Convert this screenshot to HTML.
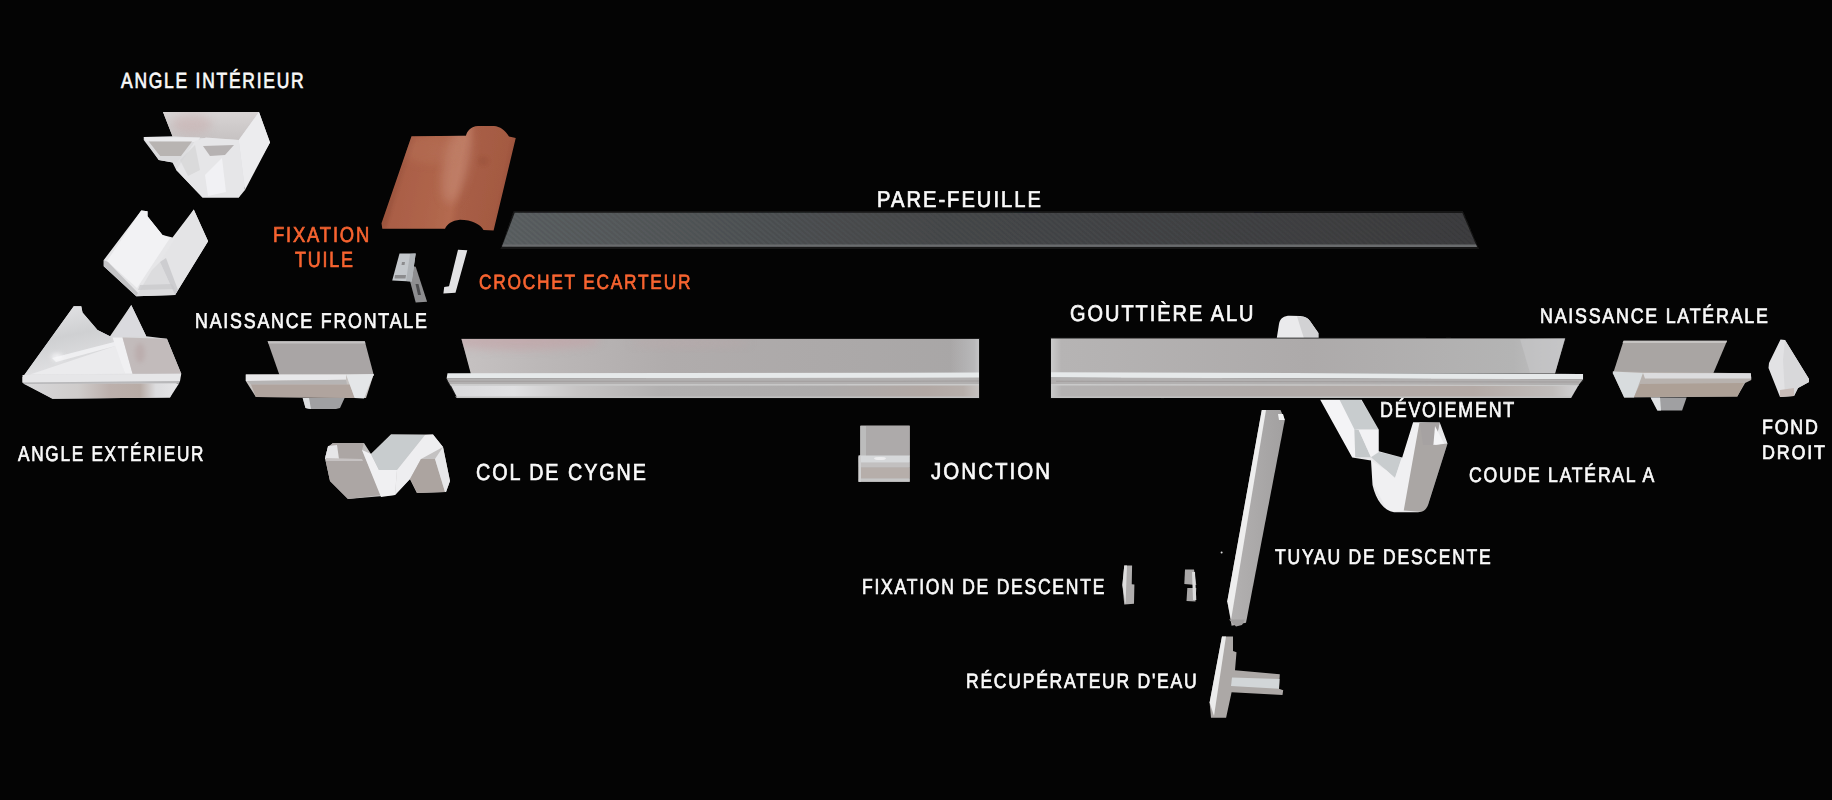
<!DOCTYPE html>
<html><head><meta charset="utf-8"><style>
html,body{margin:0;padding:0;background:#040404;width:1832px;height:800px;overflow:hidden}
svg{position:absolute;left:0;top:0}

.t{position:absolute;font-family:"Liberation Sans",sans-serif;line-height:1;letter-spacing:0.1em;-webkit-text-stroke:0.7px currentColor;white-space:nowrap;transform-origin:0 0;text-rendering:geometricPrecision}
</style></head><body>
<svg width="1832" height="800" viewBox="0 0 1832 800">
<filter id="bl" x="-5%" y="-5%" width="110%" height="110%"><feGaussianBlur stdDeviation="0.6"/></filter>
<g filter="url(#bl)">
<defs>
  <filter id="bl3" x="-50%" y="-50%" width="200%" height="200%"><feGaussianBlur stdDeviation="2"/></filter>
  <filter id="bl4" x="-50%" y="-50%" width="200%" height="200%"><feGaussianBlur stdDeviation="5"/></filter>
  <filter id="bl2" x="-50%" y="-50%" width="200%" height="200%"><feGaussianBlur stdDeviation="4"/></filter>
  <linearGradient id="pf" x1="0" x2="1" y1="0" y2="0">
    <stop offset="0" stop-color="#5c6163"/>
    <stop offset="0.45" stop-color="#47494b"/>
    <stop offset="1" stop-color="#3d3d3f"/>
  </linearGradient>
  <pattern id="hatch" width="4" height="4" patternUnits="userSpaceOnUse" patternTransform="rotate(40)">
    <rect width="4" height="2" fill="#000" opacity="0.06"/>
  </pattern>
  <linearGradient id="tile" gradientUnits="userSpaceOnUse" x1="385" y1="166" x2="515" y2="192">
    <stop offset="0" stop-color="#9a5038"/>
    <stop offset="0.12" stop-color="#aa5e46"/>
    <stop offset="0.45" stop-color="#b0664c"/>
    <stop offset="0.55" stop-color="#b46a50"/>
    <stop offset="0.62" stop-color="#a85e46"/>
    <stop offset="0.88" stop-color="#a45a42"/>
    <stop offset="1" stop-color="#8e4a36"/>
  </linearGradient>
  <linearGradient id="tileV" x1="0" x2="0" y1="0" y2="1">
    <stop offset="0" stop-color="#fff" stop-opacity="0.06"/>
    <stop offset="0.6" stop-color="#000" stop-opacity="0"/>
    <stop offset="1" stop-color="#000" stop-opacity="0.12"/>
  </linearGradient>
  <linearGradient id="g1back" x1="0" x2="1" y1="0" y2="0">
    <stop offset="0" stop-color="#c6c2c2"/>
    <stop offset="0.15" stop-color="#bcb8b8"/>
    <stop offset="0.4" stop-color="#b0acac"/>
    <stop offset="1" stop-color="#a8a6a6"/>
  </linearGradient>
  <linearGradient id="g1end" x1="0" x2="1" y1="0" y2="0">
    <stop offset="0" stop-color="#bcbcbe" stop-opacity="0"/>
    <stop offset="0.8" stop-color="#bcbcbe" stop-opacity="0.8"/>
    <stop offset="1" stop-color="#c8c8ca" stop-opacity="1"/>
  </linearGradient>
  <linearGradient id="g1pink" x1="0" x2="0" y1="0" y2="1">
    <stop offset="0" stop-color="#c4a4a6" stop-opacity="0.85"/>
    <stop offset="1" stop-color="#c4a4a6" stop-opacity="0"/>
  </linearGradient>
  <linearGradient id="g1front" x1="0" x2="1" y1="0" y2="0">
    <stop offset="0" stop-color="#dadadc"/>
    <stop offset="0.12" stop-color="#e0e0e2"/>
    <stop offset="0.24" stop-color="#c6c4c4"/>
    <stop offset="0.4" stop-color="#b2b0b0"/>
    <stop offset="0.7" stop-color="#adabab"/>
    <stop offset="0.9" stop-color="#b2a8a4"/>
    <stop offset="0.97" stop-color="#b6aeaa"/>
    <stop offset="1" stop-color="#c6c2c0"/>
  </linearGradient>
  <linearGradient id="g2back" x1="0" x2="1" y1="0" y2="0">
    <stop offset="0" stop-color="#cacaca"/>
    <stop offset="0.02" stop-color="#b6b4b4"/>
    <stop offset="0.5" stop-color="#adaaaa"/>
    <stop offset="0.9" stop-color="#b4b4b4"/>
    <stop offset="1" stop-color="#c4c4c6"/>
  </linearGradient>
  <linearGradient id="g2front" x1="0" x2="1" y1="0" y2="0">
    <stop offset="0" stop-color="#cacaca"/>
    <stop offset="0.02" stop-color="#b4b2b2"/>
    <stop offset="0.4" stop-color="#b0aaa8"/>
    <stop offset="0.8" stop-color="#b4aaa6"/>
    <stop offset="0.95" stop-color="#c0bcba"/>
    <stop offset="1" stop-color="#d2d2d4"/>
  </linearGradient>
  <linearGradient id="aeFront" x1="0" x2="1" y1="0" y2="0">
    <stop offset="0" stop-color="#d8d8da"/>
    <stop offset="0.35" stop-color="#cfcccb"/>
    <stop offset="0.55" stop-color="#bcb0ac"/>
    <stop offset="0.75" stop-color="#b8aca6"/>
    <stop offset="0.85" stop-color="#dcdcde"/>
    <stop offset="1" stop-color="#e6e6e8"/>
  </linearGradient>
  <linearGradient id="aePanel" x1="0" x2="0.3" y1="0" y2="1">
    <stop offset="0" stop-color="#e6e6e8"/>
    <stop offset="0.5" stop-color="#cfd0d2"/>
    <stop offset="1" stop-color="#e2e2e4"/>
  </linearGradient>
  <linearGradient id="aiBack" x1="0" x2="0" y1="0" y2="1">
    <stop offset="0" stop-color="#d8d4d4"/>
    <stop offset="1" stop-color="#c6c2c2"/>
  </linearGradient>
  <linearGradient id="pipe" x1="0" x2="1" y1="0" y2="0">
    <stop offset="0" stop-color="#b4b2b2"/>
    <stop offset="1" stop-color="#a2a0a0"/>
  </linearGradient>
</defs>

<!-- ANGLE INTERIEUR -->
<g>
  <polygon points="163,112 259,112 270,142.5 238.75,197.5 202.5,197.5 176.25,170 172.5,162.5 158.75,160 143.75,140 143.75,137 172.5,136.25" fill="#dedee0"/>
  <polygon points="163,112 259,112 238.75,140 172.5,136.25" fill="url(#aiBack)"/>
  <clipPath id="cai"><polygon points="163,112 259,112 238.75,140 172.5,136.25"/></clipPath>
  <g clip-path="url(#cai)"><ellipse cx="192" cy="124" rx="20" ry="10" fill="#c4a0a0" opacity="0.35" filter="url(#bl2)"/></g>
  <polygon points="259,112 270,142.5 245,190 238.75,140" fill="#ececee"/>
  <polygon points="143.75,136.9 200,137.5 197.5,142 146,141.25" fill="#eaeaec"/>
  <polygon points="148.75,141.5 192,141.5 181,156 160,156" fill="#b8b4b2"/>
  <polygon points="146,141.25 160,156 182,156 176,163 158.75,160" fill="#dadadc"/>
  <polygon points="176.25,170 195,141 206,137.5 238.75,140 245,190 238.75,197.5 202.5,197.5" fill="#e6e6e8"/>
  <polygon points="203,146 234,145 225,155 210,156" fill="#b6b2b2"/>
  <polygon points="205,175 222,158 226,192 208,196" fill="#f4f4f6" opacity="0.8"/>
  <polygon points="180,160 195,145 200,170 188,176" fill="#d4d4d6" opacity="0.7"/>
</g>

<!-- ANGLE 2 -->
<g>
  <polygon points="141.25,210.6 147.5,211.25 147.5,216.25 162.5,235 172.5,237.5 193.75,209.4 208.1,241.25 175,295 136.25,296.25 103.75,266.25 103.75,260" fill="#e6e6e8"/>
  <polygon points="141.25,210.6 147.5,211.25 147.5,216.25 162.5,235 170,238 137,288 107,261" fill="#f2f2f4"/>
  <polygon points="193.75,209.4 208.1,241.25 175,295 160,262" fill="#e4e4e6"/>
  <polygon points="160,262 175,295 136.25,296.25 152,270" fill="#dcdcde"/>
  <polygon points="103.75,260 108,262 138,293 136.25,296.25 103.75,266.25" fill="#c4c4c6"/>
  <polygon points="160,262 166,258 178,290 175,295" fill="#cdcdd0"/>
  <polygon points="140,285 172,284 175,289 138,290" fill="#c8c8ca" opacity="0.7"/>
</g>

<!-- ANGLE EXTERIEUR -->
<g>
  <polygon points="73.75,306.25 81.25,306.25 82.5,312.5 97.5,330 110,336.25 131.25,305 146.25,336.25 166.9,338.75 181.25,373.75 170,397.5 52.5,398.75 22.5,382.5 22.5,377.5" fill="#d8d8da"/>
  <polygon points="73.75,306.25 81.25,306.25 82.5,312.5 97.5,330 110,336.25 125,373.75 22.5,377.5" fill="url(#aePanel)"/>
  <polygon points="30,374.5 118,345 125,373.75" fill="#ebebed"/>
  <polygon points="52,358 118,341 119,345 56,362" fill="#f4f4f6" opacity="0.8"/>
  <ellipse cx="57" cy="357" rx="6" ry="4" fill="#f8f8fa" opacity="0.7" filter="url(#bl3)"/>
  <polygon points="131.25,305 146.25,336.25 112.5,337.5" fill="#dadade"/>
  <polygon points="112.5,337.5 122.5,337.5 132.5,373.75 125,373.75" fill="#f0f0f2"/>
  <polygon points="122.5,337.5 166.9,338.75 181.25,373.75 132.5,373.75" fill="#c2bbbb"/>
  <ellipse cx="140" cy="353" rx="5" ry="10" fill="#a88888" opacity="0.25" filter="url(#bl3)"/>
  <polygon points="22.5,375 181.25,373.75 180,381 22.5,382.5" fill="#e6e6e8"/>
  <polygon points="22.5,382.5 180,381 179,383.5 24,384" fill="#b8b8ba"/>
  <polygon points="24,384 179,383.5 170,397.5 52.5,398.75" fill="url(#aeFront)"/>
</g>

<!-- NAISSANCE FRONTALE -->
<g>
  <polygon points="267.6,341.2 364.8,341.2 374,376 279.8,376" fill="#a9a5a5"/>
  <polygon points="267.6,341.2 364.8,341.2 365.5,343.5 268.5,343.5" fill="#c4c2c2"/>
  <polygon points="245.8,374.6 373.8,374.1 366,398 255.9,396.9 245.8,381" fill="#c6c2c0"/>
  <polygon points="245.8,374.6 346,374.6 346,379.8 245.8,381" fill="#e8e8ea"/>
  <polygon points="247,381 346,379.8 347,384.5 251,384.5" fill="#b6b4b4"/>
  <polygon points="251,384.5 350,384.5 354.7,398 255.9,396.9" fill="#b0a49e"/>
  <polygon points="346,374.6 373.8,374.1 364,398.5 354.7,398" fill="#e4e6e8"/>
  <polygon points="302.7,398 344.6,398 340,408 336,409 309,409 305.5,408" fill="#a0a0a2"/>
  <polygon points="302.7,398 309,398 311,409 305.5,408" fill="#dcdee0"/>
</g>

<!-- TILE -->
<g>
  <clipPath id="ctile"><path d="M411.5,136.2 L466,135.8 C467,131 471,126.5 478,126 L494,126 C500,126.5 505,130 509,136.5 L515.75,138 L493.6,230.5 L483.5,230 C480,224 472,220 460,219.8 C452,220.5 447,224 445,228.8 L382.3,228.8 L381.5,223.2 Z"/></clipPath>
  <path d="M411.5,136.2 L466,135.8 C467,131 471,126.5 478,126 L494,126 C500,126.5 505,130 509,136.5 L515.75,138 L493.6,230.5 L483.5,230 C480,224 472,220 460,219.8 C452,220.5 447,224 445,228.8 L382.3,228.8 L381.5,223.2 Z" fill="url(#tile)"/>
  <g clip-path="url(#ctile)">
    <ellipse cx="457" cy="162" rx="13" ry="42" transform="rotate(12 457 162)" fill="#d09a88" opacity="0.4" filter="url(#bl4)"/>
    <ellipse cx="430" cy="150" rx="30" ry="14" fill="#c08068" opacity="0.25" filter="url(#bl2)"/>
    <ellipse cx="483" cy="161" rx="5" ry="4" fill="#7a3e2c" opacity="0.18" filter="url(#bl3)"/>
    <path d="M381.5,223.2 L411.5,136.2 L414,136.2 L385,229 Z" fill="#000" opacity="0.08" filter="url(#bl3)"/>
  </g>
</g>

<!-- FIXATION TUILE hooks -->
<g>
  <polygon points="411.7,266 415.7,266.8 427.1,301.7 415.7,302.5 410,281" fill="#8e8e90"/>
  <polygon points="415.5,284 418.5,284 421,295 418,295" fill="#4e4e50"/>
  <polygon points="399.5,253.4 415.7,253.4 411.7,281.4 392.2,280.6" fill="#c4c8cc"/>
  <polygon points="395,275 406,275 405.5,278.5 394.5,278.5" fill="#8c8c8e"/>
  <polygon points="402,262 405,262 404.5,265 401.5,265" fill="#8c8c8e"/>
  <polygon points="410,254 415.7,253.4 411.7,281.4 406,281" fill="#b0b4b8"/>
  <polygon points="458,249.7 467.3,250.2 455.5,292.8 443.4,293.6 444.2,287.1 449,286.3" fill="#e2e2e4"/>
</g>

<!-- PARE-FEUILLE -->
<g>
  <polygon points="513.5,211 1463,211 1479,249 500.5,249" fill="#161616"/>
  <polygon points="514.75,212.75 1462.3,213 1477,247 502,246.5" fill="url(#pf)"/>
  <polygon points="514.75,212.75 1462.3,213 1477,247 502,246.5" fill="url(#hatch)"/>
  <polygon points="503,244.5 1476,244.5 1477,247 502,246.5" fill="#6a6c6e"/>
</g>

<!-- GUTTER 1 -->
<g>
  <polygon points="461.1,338 979.7,338 979.7,398.4 456.9,398.4 446.6,380.6 447.5,374.5 470.9,373.1" fill="#1a1a1a"/>
  <polygon points="461.5,339 979,339 979,374 470.9,374" fill="url(#g1back)"/>
  <clipPath id="cg1"><polygon points="461.5,339 979,339 979,374 470.9,374"/></clipPath>
  <g clip-path="url(#cg1)">
    <ellipse cx="520" cy="341" rx="80" ry="9" fill="#c4a0a4" opacity="0.55" filter="url(#bl2)"/>
    <ellipse cx="690" cy="343" rx="60" ry="5" fill="#c0a8aa" opacity="0.35" filter="url(#bl2)"/>
    <rect x="950" y="339" width="30" height="35" fill="url(#g1end)"/>
  </g>
  <polygon points="447.5,373.2 979,372.6 979,378 446.6,378.6" fill="#e6e9ea"/>
  <polygon points="446.6,378.2 979,377.6 979,384.5 450.3,385.3" fill="#b2b0b0"/>
  <polygon points="448,380.8 979,380.6 979,381.6 448,381.8" fill="#a29e9e"/>
  <polygon points="450.3,384.2 979,384 979,397 456.9,397" fill="url(#g1front)"/>
  <polygon points="450.3,384.2 979,384 979,385.5 450.8,385.7" fill="#cacaca"/>
  <polygon points="455,396.6 979,396.6 979,398 456.9,398" fill="#c2c2c2"/>
</g>

<!-- DEVOIEMENT top (behind gutter2) -->
<path d="M1276.7,338.5 L1279,324 C1280,318 1284,315.7 1290,315.7 L1300,316 C1305,316.5 1308,318 1310,321 L1318.4,333 L1318.4,338.5 Z" fill="#eaeaec"/>
<path d="M1297,316.2 C1305,316.5 1308,318 1310,321 L1318.4,333 L1318.4,338.5 L1304,338.5 L1300,326 Z" fill="#d2d2d4"/>

<!-- GUTTER 2 -->
<g>
  <polygon points="1050.5,337.5 1566,338 1555.5,372.5 1583.5,374.5 1583.5,381 1579,384.5 1572,397 1050.5,398.5" fill="#1a1a1a"/>
  <polygon points="1051,338.5 1565,338.5 1555,373.5 1051,373.5" fill="url(#g2back)"/>
  <polygon points="1520,339 1565,338.5 1555,373 1530,373" fill="#c6c6c8" opacity="0.6"/>
  <polygon points="1051,372.2 1583,374 1583,379.5 1051,377.8" fill="#e6e9ea"/>
  <polygon points="1051,377.5 1583,379.2 1579,384.5 1051,384.5" fill="#b2b0b0"/>
  <polygon points="1056,380.8 1579,381.6 1579,382.6 1056,381.8" fill="#a29e9e"/>
  <polygon points="1051,384 1579,384.5 1571.5,397.2 1051,397.2" fill="url(#g2front)"/>
  <polygon points="1051,384 1579,384.5 1578,386 1051,385.5" fill="#cacaca"/>
  <polygon points="1051,396.6 1572,396.6 1571,398 1051,398" fill="#c2c2c2"/>
</g>

<!-- NAISSANCE LATERALE -->
<g>
  <polygon points="1623.6,340.7 1727.1,340.7 1713,374 1612.9,374" fill="#a9a5a3"/>
  <polygon points="1623.6,340.7 1727.1,340.7 1726,343 1622.5,343" fill="#c6c4c2"/>
  <polygon points="1612.9,371.6 1750.8,373.3 1751.3,380.1 1745.1,382.9 1737.3,396.4 1624.2,397.5 1612.9,373.3" fill="#b8b2ae"/>
  <polygon points="1643,373 1750.8,373.3 1751.3,378.5 1645,378.5" fill="#dcdcde"/>
  <polygon points="1612.9,371.6 1643,373 1634,397.5 1624.2,397.5 1612.9,373.3" fill="#d8dcde"/>
  <polygon points="1640,384 1744,383 1737.3,396.4 1634,397" fill="#ada096"/>
  <polygon points="1650.6,397.5 1686.6,397.5 1682.1,410.5 1657.4,410.5" fill="#a0a0a2"/>
  <polygon points="1650.6,397.5 1660,397.5 1661,410.5 1657.4,410.5" fill="#e0e2e4"/>
</g>

<!-- FOND DROIT -->
<g>
  <polygon points="1780.5,339.5 1785,340 1809,379 1809,382 1798,388 1794,396 1780,397 1768.5,368 1769,363" fill="#e2e2e4"/>
  <polygon points="1785,340 1809,379 1809,382 1798,388 1794,396 1785,396 1783,360" fill="#d8d8da"/>
  <polygon points="1780,390 1794,388 1794,396 1780,397" fill="#c8bcb8"/>
</g>

<!-- JONCTION -->
<g>
  <polygon points="860.4,425.6 909.7,425.6 909.7,481.8 858.6,481.8 858.6,457 860.4,456" fill="#b4b0b0"/>
  <polygon points="860.4,426 909.7,426 909.7,456.5 860.4,456.5" fill="#adaaaa"/>
  <polygon points="860.4,426 866,426 866,456.5 860.4,456.5" fill="#bcbcbc"/>
  <polygon points="858.6,455.6 909.7,455.6 909.7,462.8 858.6,462.8" fill="#d6d8da"/>
  <ellipse cx="880" cy="458.5" rx="6" ry="1.6" fill="#f2f2f4" opacity="0.8"/>
  <polygon points="858.6,462.8 909.7,462.8 909.7,467.6 858.6,467.6" fill="#c2c0c0"/>
  <polygon points="858.6,467.6 909.7,467.6 909.7,478.5 858.6,478.5" fill="#b6aeaa"/>
  <polygon points="858.6,478.5 909.7,478.5 909.7,481.8 858.6,481.8" fill="#c6c6c6"/>
  <polygon points="858.6,455.6 861,455.6 861,481.8 858.6,481.8" fill="#cfcfd0"/>
</g>

<!-- COL DE CYGNE -->
<g>
  <polygon points="333,443 364,443 371,454 391,434.5 433,434.5 443,447 450,481 446,492 417,493 410,479 395,495 348,499 330,481 325,458 328,447" fill="#c4c2c2"/>
  <polygon points="333,443 364,443 362,450 381,495 348,499 330,481 325,458 328,447" fill="#aca6a4"/>
  <polygon points="328,446 337,445 339,459 325,459" fill="#e6e6e8"/>
  <polygon points="326,458 362,459 363,461 326,461" fill="#c6c2c2"/>
  <polygon points="362,450 371,454 379,470 397,470 395,495 381,497" fill="#f0f0f2"/>
  <polygon points="371,454 391,434.5 425,435 397,470 379,470" fill="#c8ccce"/>
  <polygon points="425,435 433,434.5 443,447 421,459 410,479 395,495 397,470" fill="#eeeef0"/>
  <polygon points="421,459 435,459 445,492 417,493 410,479" fill="#aca4a0"/>
  <polygon points="435,459 443,447 450,481 446,492 445,492" fill="#e8e8ea"/>
</g>

<!-- DEVOIEMENT / COUDE -->
<clipPath id="ccoude"><path d="M1320.2,399.7 L1361.6,399.7 L1378.75,429.4 L1378.75,451.25 L1402.2,457.5 L1413.1,422.3 L1439.7,422.3 L1447.5,443.4 L1428,505 C1426,510 1423,512.2 1418,512.2 L1394,512.2 C1384,511 1376,500 1372.5,485 L1371,460.6 L1352.2,457.5 Z"/></clipPath>
<g clip-path="url(#ccoude)">
  <rect x="1315" y="395" width="140" height="125" fill="#e8e8ea"/>
  <polygon points="1320.25,399.5 1339.5,399.5 1354.4,429.25 1355.25,457.25 1351.75,457.25" fill="#f4f4f6"/>
  <polygon points="1339.5,399.5 1360.5,399.5 1379.75,429.25 1354.4,429.25" fill="#c8ccce"/>
  <polygon points="1354.4,429.25 1358.75,430.1 1371,457.25 1355.25,457.25" fill="#c4c8ca"/>
  <polygon points="1358.75,430.1 1379.75,430.1 1379.75,451.1 1371,457.25" fill="#f2f2f4"/>
  <polygon points="1371,457.25 1379,452 1402.2,457.5 1395,478 1386,470" fill="#c8ccce"/>
  <polygon points="1371,460.6 1386,470 1395,478 1413.1,422.3 1419.4,423.1 1403.75,510.6 1388.1,512.2 1372.5,482.5" fill="#f0f0f2"/>
  <polygon points="1419.4,423.1 1439.7,422.3 1435,445 1447.5,443.4 1425.6,512.2 1403.75,510.6" fill="#aaa6a4"/>
  <polygon points="1420,423.1 1439.7,422.3 1435,445 1423,445" fill="#a6a2a2"/>
  <polygon points="1435,426 1444,443.4 1433.4,445" fill="#f4f4f6"/>
</g>

<!-- TUYAU DE DESCENTE -->
<g>
  <polygon points="1261.8,410.1 1280.5,410.1 1284.8,420.1 1246,622.8 1231.6,625.7 1227.3,601.3" fill="url(#pipe)"/>
  <polygon points="1261.8,410.1 1266,410.1 1231,620 1227.3,601.3" fill="#eeeeee"/>
  <polygon points="1278,414 1283,414 1284.8,420.1 1279,420.1" fill="#f4f4f4"/>
  <polygon points="1229,619.5 1245,619.5 1242,625 1236,626.5" fill="#a09e9e"/>
</g>
<circle cx="1221.6" cy="552.4" r="1" fill="#ddd"/>

<!-- RECUPERATEUR -->
<g>
  <polygon points="1222,636.5 1233,636.5 1233,651 1236.5,652.3 1235,670.2 1279.8,674.3 1279,688.8 1283.2,690.2 1282.5,695 1231.6,692.2 1226.1,717.7 1211,717.7 1209.6,702.5" fill="#aca8a6"/>
  <polygon points="1222,636.5 1226,636.5 1214,716 1209.6,702.5" fill="#ececec"/>
  <polygon points="1232,677.5 1279.5,679 1279,688.8 1231,686" fill="#d2d6d8"/>
</g>

<!-- FIXATION DE DESCENTE -->
<g>
  <polygon points="1124.25,565.5 1132.1,565.5 1131.75,584.25 1134.4,584.6 1134,603.75 1124.25,604.5 1122.4,585" fill="#b0aeae"/>
  <polygon points="1124.25,565.5 1127,565.5 1125.5,604.5 1122.4,585" fill="#dedede"/>
  <polygon points="1185,569.6 1194,569.6 1196.3,585 1184.3,583.9" fill="#aaa8a8"/>
  <polygon points="1187.3,588 1196.3,588 1195.5,601.5 1186.5,601.1" fill="#a8a6a6"/>
  <polygon points="1192,572 1195,572 1196.3,600 1193,600" fill="#dcdcdc"/>
</g>

</g>
</svg>
<div class="t" style="left:121.25px;top:69.93px;font-size:21.92px;transform:scaleX(0.7973);color:#fafafa">ANGLE INTÉRIEUR</div>
<div class="t" style="left:272.96px;top:224.23px;font-size:21.58px;transform:scaleX(0.852);color:#f86430">FIXATION</div>
<div class="t" style="left:295.07px;top:248.73px;font-size:21.92px;transform:scaleX(0.8177);color:#f86430">TUILE</div>
<div class="t" style="left:194.65px;top:310.51px;font-size:21.37px;transform:scaleX(0.8341);color:#fafafa">NAISSANCE FRONTALE</div>
<div class="t" style="left:17.74px;top:444.41px;font-size:21.37px;transform:scaleX(0.8049);color:#fafafa">ANGLE EXTÉRIEUR</div>
<div class="t" style="left:478.96px;top:272.9px;font-size:20.68px;transform:scaleX(0.8392);color:#f86430">CROCHET ECARTEUR</div>
<div class="t" style="left:877.39px;top:187.8px;font-size:22.88px;transform:scaleX(0.8802);color:#fafafa">PARE-FEUILLE</div>
<div class="t" style="left:1070.3px;top:302.02px;font-size:22.74px;transform:scaleX(0.8771);color:#fafafa">GOUTTIÈRE ALU</div>
<div class="t" style="left:1539.95px;top:305.65px;font-size:21.1px;transform:scaleX(0.8443);color:#fafafa">NAISSANCE LATÉRALE</div>
<div class="t" style="left:1379.65px;top:400.39px;font-size:21.51px;transform:scaleX(0.8311);color:#fafafa">DÉVOIEMENT</div>
<div class="t" style="left:1469.4px;top:464.55px;font-size:21.1px;transform:scaleX(0.8351);color:#fafafa">COUDE LATÉRAL A</div>
<div class="t" style="left:1761.85px;top:418.22px;font-size:20.55px;transform:scaleX(0.8673);color:#fafafa">FOND</div>
<div class="t" style="left:1761.84px;top:443.86px;font-size:19.59px;transform:scaleX(0.9153);color:#fafafa">DROIT</div>
<div class="t" style="left:475.61px;top:460.86px;font-size:23.15px;transform:scaleX(0.8518);color:#fafafa">COL DE CYGNE</div>
<div class="t" style="left:930.7px;top:459.98px;font-size:23.01px;transform:scaleX(0.891);color:#fafafa">JONCTION</div>
<div class="t" style="left:861.82px;top:575.77px;font-size:21.64px;transform:scaleX(0.8105);color:#fafafa">FIXATION DE DESCENTE</div>
<div class="t" style="left:966.27px;top:672.0px;font-size:20.68px;transform:scaleX(0.8484);color:#fafafa">RÉCUPÉRATEUR D&#39;EAU</div>
<div class="t" style="left:1275.32px;top:547.43px;font-size:21.23px;transform:scaleX(0.8264);color:#fafafa">TUYAU DE DESCENTE</div>
</body></html>
